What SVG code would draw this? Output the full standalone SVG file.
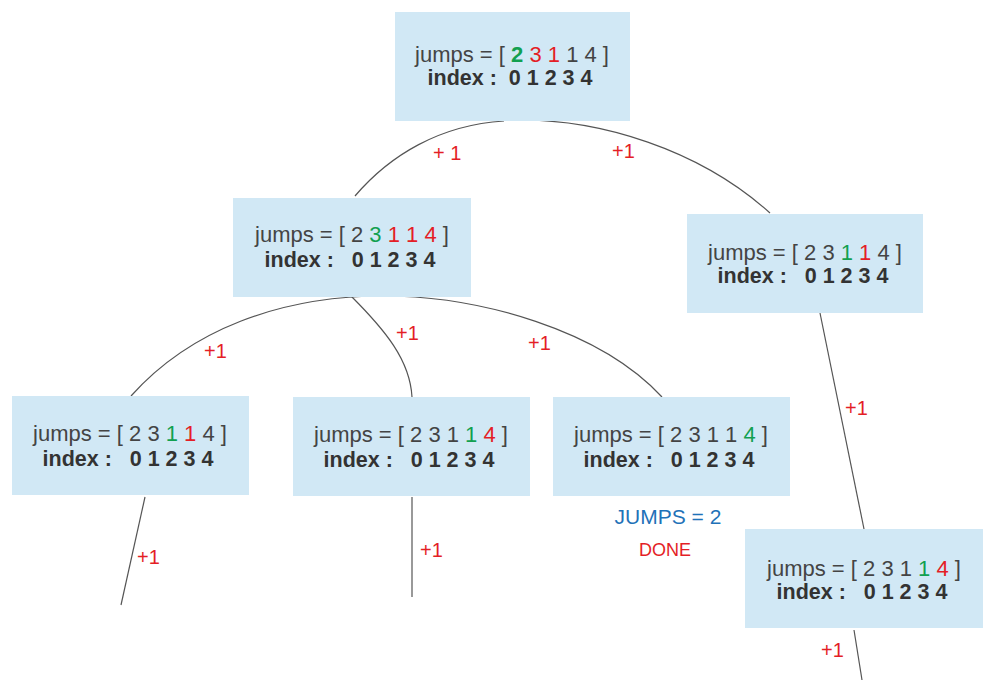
<svg xmlns="http://www.w3.org/2000/svg" width="995" height="692" viewBox="0 0 995 692">
<style>
.box{fill:#d1e8f5}
.j{font-family:"Liberation Sans",Arial,sans-serif;font-size:22px;fill:#444;text-anchor:middle}
.i{font-family:"Liberation Sans",Arial,sans-serif;font-size:21.5px;font-weight:bold;fill:#333;text-anchor:middle}
.g{fill:#12a050}
.r{fill:#e41e26}
.b{font-weight:bold}
.lbl{font-family:"Liberation Sans",Arial,sans-serif;font-size:20px;fill:#e41e26}
.con{fill:none;stroke:#555;stroke-width:1.2}
</style>
<rect width="995" height="692" fill="#fff"/>
<g id="connectors">
<path class="con" d="M355,196 C390,155 440,125 504,121"/>
<path class="con" d="M512,120 C600,118 700,150 770,213"/>
<path class="con" d="M131,396 C190,330 280,296 383,296 C480,296 600,330 662,397"/>
<path class="con" d="M351,296 C385,330 410,360 412,397"/>
<path class="con" d="M820,313 L864,529"/>
<path class="con" d="M145,497 L121,605"/>
<path class="con" d="M412,497 L412,597"/>
<path class="con" d="M854,630 L862,680"/>
<text class="lbl" x="433" y="160" xml:space="preserve">+ 1</text>
<text class="lbl" x="612" y="158">+1</text>
<text class="lbl" x="204" y="358">+1</text>
<text class="lbl" x="396" y="340">+1</text>
<text class="lbl" x="528" y="350">+1</text>
<text class="lbl" x="845" y="415">+1</text>
<text class="lbl" x="137" y="564">+1</text>
<text class="lbl" x="420" y="557">+1</text>
<text class="lbl" x="821" y="657">+1</text>
</g>
<g id="n0">
<rect class="box" x="395" y="12" width="235" height="109"/>
<text class="j" x="512" y="62" xml:space="preserve">jumps = [ <tspan class="g b">2</tspan> <tspan class="r">3</tspan> <tspan class="r">1</tspan> 1 4 ]</text>
<text class="i" x="510" y="85" xml:space="preserve">index :  0 1 2 3 4</text>
</g>
<g id="n1">
<rect class="box" x="233" y="198" width="238" height="99"/>
<text class="j" x="352" y="242" xml:space="preserve">jumps = [ 2 <tspan class="g">3</tspan> <tspan class="r">1</tspan> <tspan class="r">1</tspan> <tspan class="r">4</tspan> ]</text>
<text class="i" x="350" y="267" xml:space="preserve">index :   0 1 2 3 4</text>
</g>
<g id="n2">
<rect class="box" x="687" y="214" width="236" height="99"/>
<text class="j" x="805" y="260" xml:space="preserve">jumps = [ 2 3 <tspan class="g">1</tspan> <tspan class="r">1</tspan> 4 ]</text>
<text class="i" x="803" y="283" xml:space="preserve">index :   0 1 2 3 4</text>
</g>
<g id="n3">
<rect class="box" x="12" y="396" width="237" height="99"/>
<text class="j" x="130" y="441" xml:space="preserve">jumps = [ 2 3 <tspan class="g">1</tspan> <tspan class="r">1</tspan> 4 ]</text>
<text class="i" x="128" y="466" xml:space="preserve">index :   0 1 2 3 4</text>
</g>
<g id="n4">
<rect class="box" x="293" y="397" width="237" height="99"/>
<text class="j" x="411" y="442" xml:space="preserve">jumps = [ 2 3 1 <tspan class="g">1</tspan> <tspan class="r">4</tspan> ]</text>
<text class="i" x="409" y="467" xml:space="preserve">index :   0 1 2 3 4</text>
</g>
<g id="n5">
<rect class="box" x="553" y="397" width="237" height="99"/>
<text class="j" x="671" y="442" xml:space="preserve">jumps = [ 2 3 1 1 <tspan class="g">4</tspan> ]</text>
<text class="i" x="669" y="467" xml:space="preserve">index :   0 1 2 3 4</text>
</g>
<g id="n6">
<rect class="box" x="745" y="529" width="238" height="99"/>
<text class="j" x="864" y="576" xml:space="preserve">jumps = [ 2 3 1 <tspan class="g">1</tspan> <tspan class="r">4</tspan> ]</text>
<text class="i" x="862" y="599" xml:space="preserve">index :   0 1 2 3 4</text>
</g>
<g id="done">
<text x="668" y="524" font-family="Liberation Sans,Arial,sans-serif" font-size="21" fill="#1f72b8" text-anchor="middle">JUMPS = 2</text>
<text x="665" y="556" font-family="Liberation Sans,Arial,sans-serif" font-size="18" fill="#e41e26" text-anchor="middle">DONE</text>
</g>
</svg>
